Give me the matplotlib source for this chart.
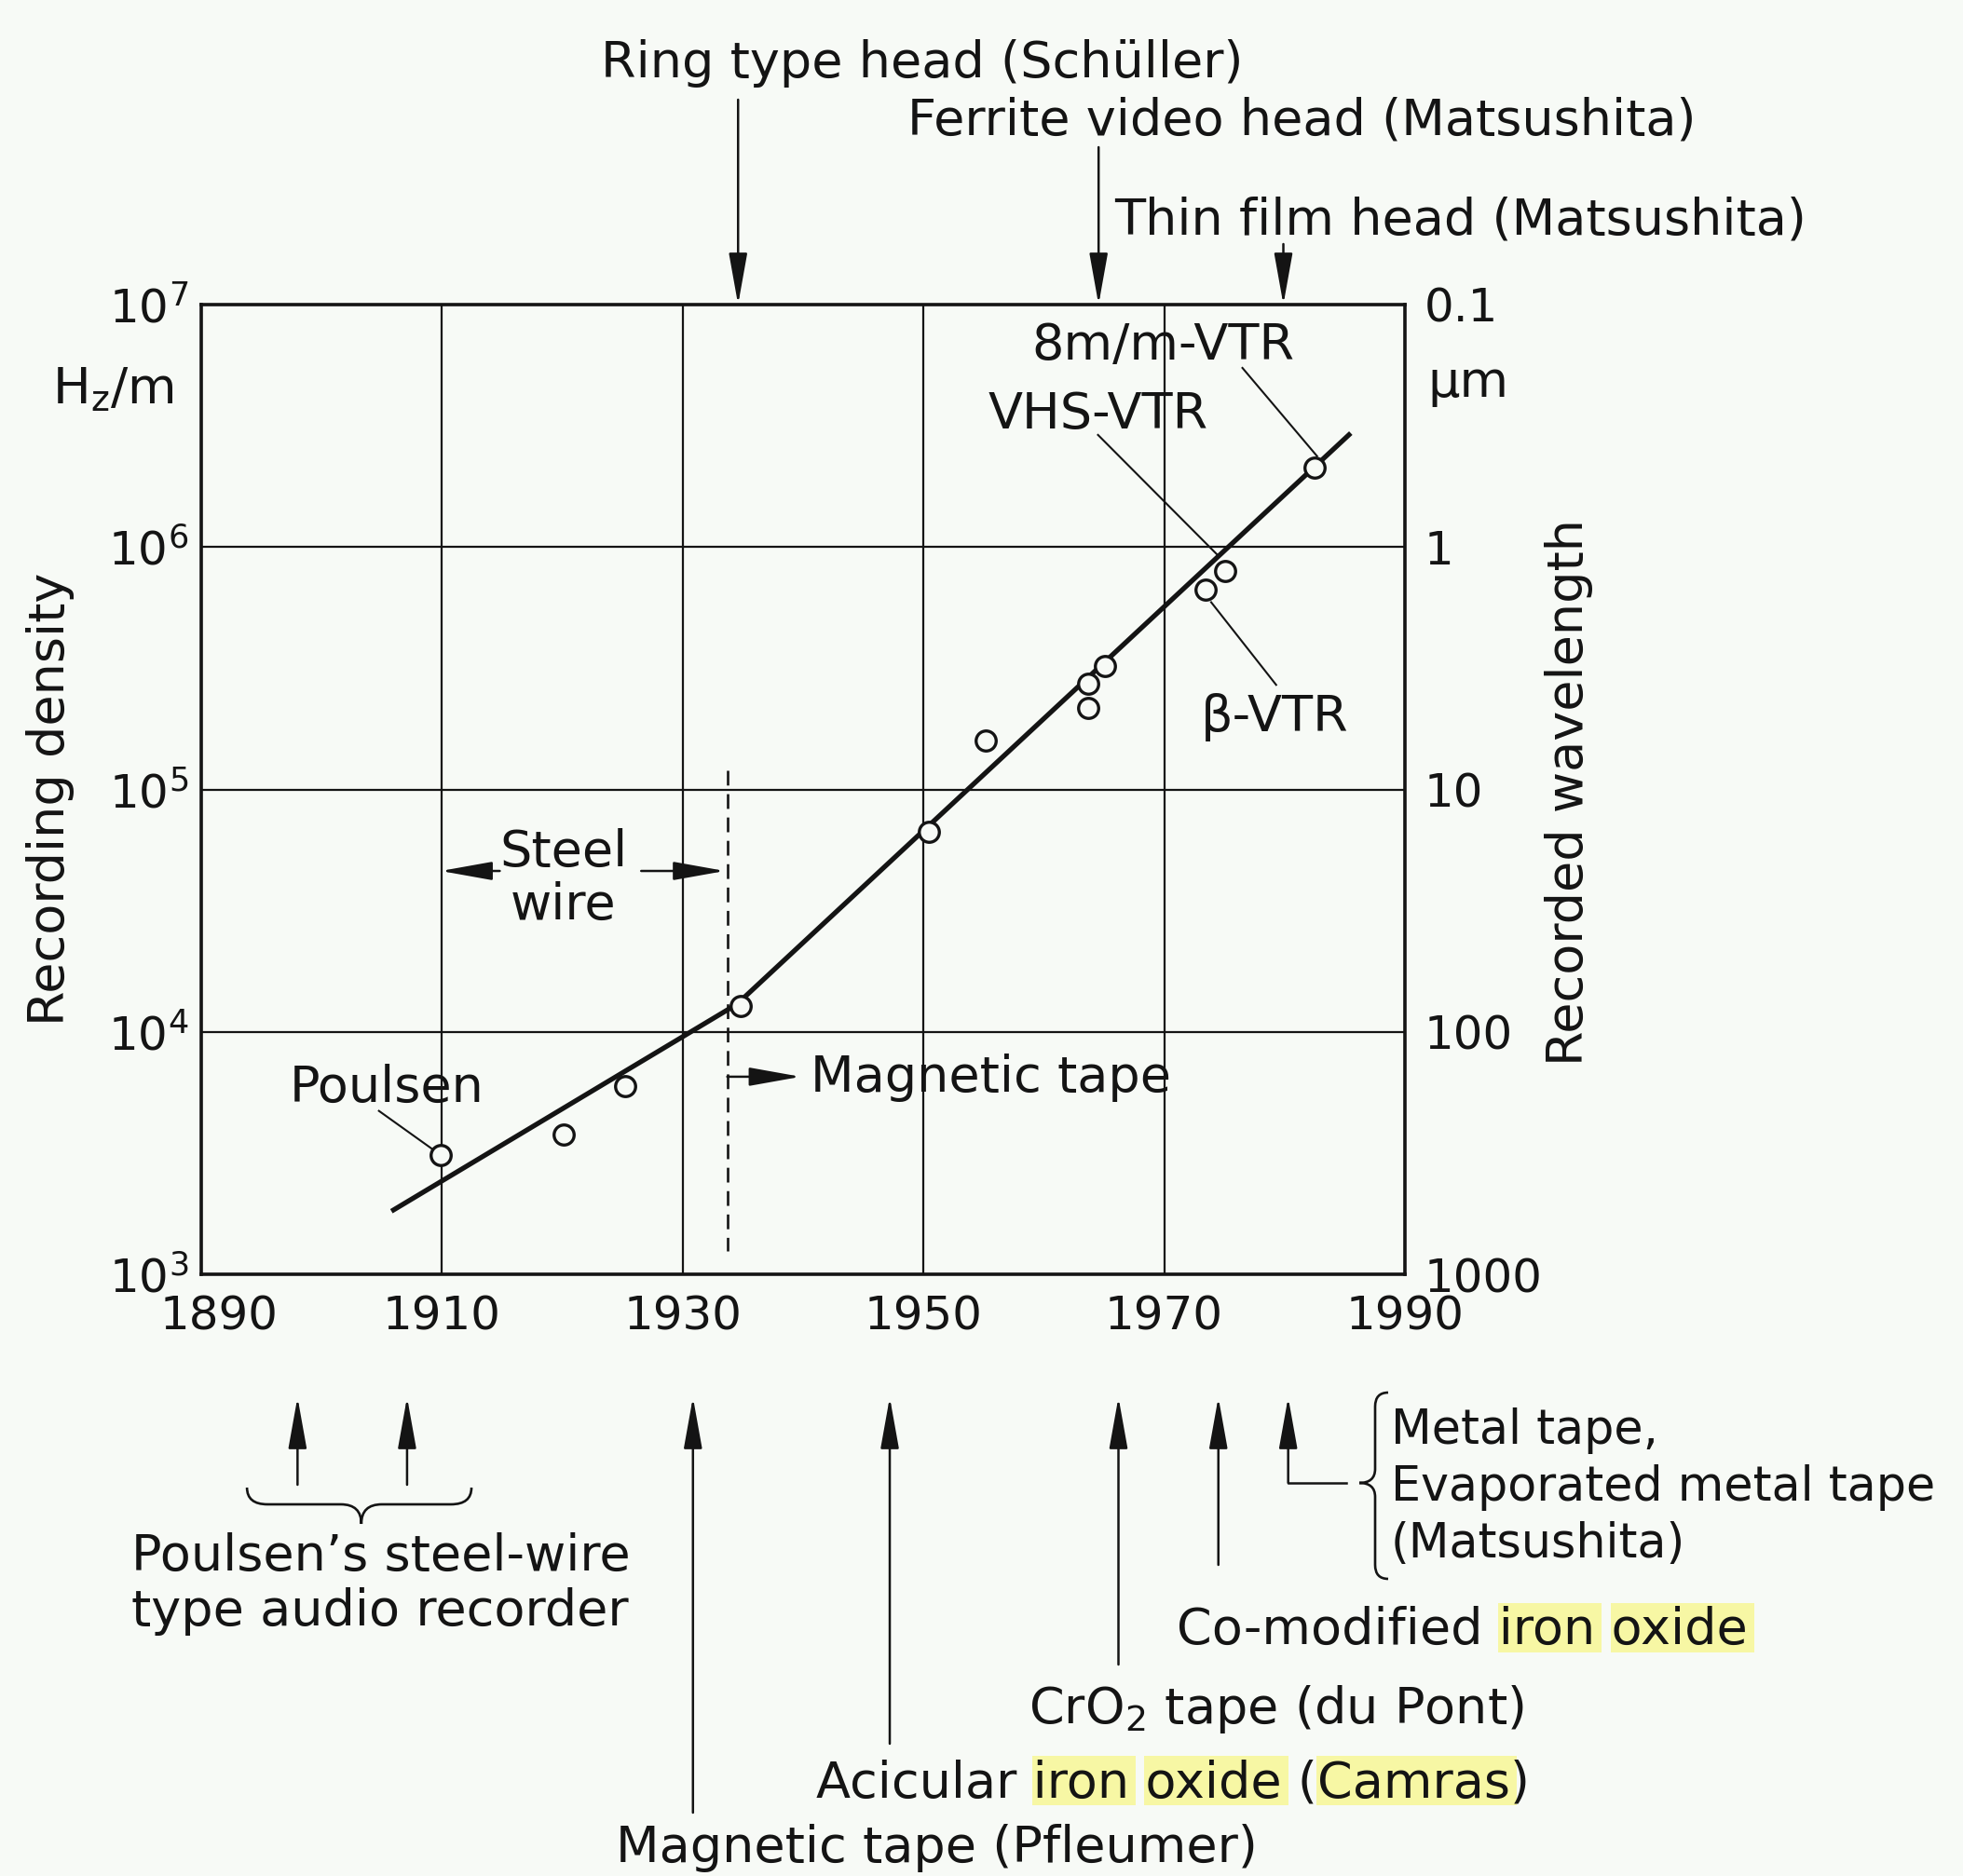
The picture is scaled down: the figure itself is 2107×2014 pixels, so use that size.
import matplotlib
matplotlib.use("Agg")
import matplotlib.pyplot as plt
import numpy as np
from matplotlib.path import Path
from matplotlib.patches import PathPatch, Rectangle
from matplotlib.ticker import NullLocator
import matplotlib.transforms as mtransforms

plt.rcParams['font.family'] = ['DejaVu Sans']
plt.rcParams['mathtext.fontset'] = 'dejavusans'

# ---------------- data ----------------
point_years = [1909.9, 1920.1, 1925.2, 1934.8, 1950.45, 1955.2, 1963.7, 1963.65,
               1965.1, 1973.45, 1975.1, 1982.5]
point_density = [3100, 3760, 5950, 12800, 66700, 159000, 217000, 273000,
                 323000, 665000, 794000, 2.13e6]
trend_years = [1905.8, 1934.5, 1985.5]
trend_density = [1820, 13000, 2.95e6]

x_ticks = [1890, 1910, 1930, 1950, 1970, 1990]
y_ticks = [1e3, 1e4, 1e5, 1e6, 1e7]
y_tick_labels = ['$10^{3}$', '$10^{4}$', '$10^{5}$', '$10^{6}$', '$10^{7}$']
wl_ticks = [0.1, 1, 10, 100, 1000]
wl_tick_labels = ['0.1', '1', '10', '100', '1000']

top_events = ['Ring type head (Schüller)', 'Ferrite video head (Matsushita)',
              'Thin film head (Matsushita)']
top_event_years = [1934.6, 1964.55, 1979.9]

bottom_event_years = [1898.0, 1907.1, 1930.85, 1947.2, 1966.2, 1974.5, 1980.3]

# ---------------- layout ----------------
W, H = 2107, 2014
BG = '#f7faf6'
INK = '#141414'
HL = '#f7f7a4'
FS = 39
TFS = 36

def fx(px):
    return px / W

def fy(py):
    return 1 - py / H

fig = plt.figure(figsize=(W / 100, H / 100), dpi=100, facecolor=BG)
L, R, T, B = 216, 1508, 327, 1368
ax = fig.add_axes([fx(L), fy(B), (R - L) / W, (B - T) / H])
ax.set_facecolor(BG)
ax.set_xlim(1890, 1990)
ax.set_yscale('log')
ax.set_ylim(1e3, 1e7)
ax.set_xticks(x_ticks)
ax.set_yticks(y_ticks)
ax.set_yticklabels(y_tick_labels)
ax.yaxis.set_minor_locator(NullLocator())
ax.xaxis.set_minor_locator(NullLocator())
ax.tick_params(axis='x', length=0, labelbottom=False)
ax.tick_params(axis='y', length=0, pad=10, labelsize=TFS, colors=INK)
ax.grid(True, which='major', color=INK, lw=1.6)
ax.set_axisbelow(True)
for s in ax.spines.values():
    s.set_linewidth(2.6)
    s.set_color(INK)

# right axis: recorded wavelength (um) = 1e6 / density (1/m)
sec = ax.secondary_yaxis('right', functions=(lambda d: 1e6 / np.clip(d, 1e-12, None),
                                             lambda w: 1e6 / np.clip(w, 1e-12, None)))
sec.set_yticks(wl_ticks)
sec.set_yticklabels(wl_tick_labels)
sec.yaxis.set_minor_locator(NullLocator())
sec.tick_params(length=0, pad=15, labelsize=TFS, colors=INK)
sec.spines['right'].set_visible(False)

# x tick labels (drawn as text so the first one can sit clear of 10^3)
x_label_dx = {1890: 19}
for yr in x_ticks:
    ax.annotate(str(yr), xy=(yr, fy(1428)), xycoords=('data', 'figure fraction'),
                xytext=(x_label_dx.get(yr, 0) * 0.72, 0), textcoords='offset points',
                ha='center', va='baseline', fontsize=TFS, color=INK, annotation_clip=False)

# trend line & points
ax.plot(trend_years, trend_density, color=INK, lw=3.8, solid_capstyle='butt', zorder=3)
ax.plot(point_years, point_density, 'o', ms=15.5, mfc=BG, mec=INK, mew=2.4, zorder=4)

# axis titles
fig.text(fx(54), fy(858), 'Recording density', rotation=90, ha='center', va='center',
         fontsize=FS, color=INK)
fig.text(fx(1684), fy(850), 'Recorded wavelength', rotation=90, ha='center', va='center',
         fontsize=FS, color=INK)
fig.text(fx(56), fy(433), 'H$_{\\mathregular{z}}$/m', ha='left', va='baseline', fontsize=FS, color=INK)
fig.text(fx(1532), fy(426), 'μm', ha='left', va='baseline', fontsize=FS, color=INK)

ARROW = '-|>,head_length=0.95,head_width=0.17'

def arrow(xy, xytext, coords='data', lw=1.8):
    ax.annotate('', xy=xy, xytext=xytext, xycoords=coords, textcoords=coords,
                arrowprops=dict(arrowstyle=ARROW, lw=lw, color=INK, shrinkA=0, shrinkB=0,
                                mutation_scale=36),
                annotation_clip=False)

def leader(p0, p1):
    ax.plot([p0[0], p1[0]], [p0[1], p1[1]], color=INK, lw=1.5, zorder=2)

# ---- inside annotations ----
ax.text(1920.1, 48400, 'Steel', ha='center', va='baseline', fontsize=FS, color=INK)
ax.text(1920.1, 29000, 'wire', ha='center', va='baseline', fontsize=FS, color=INK)
arrow((1909.9, 46100), (1914.8, 46100))
arrow((1933.5, 46100), (1926.55, 46100))
ax.plot([1933.7, 1933.7], [120000, 1245], color=INK, lw=1.9, ls=(0, (6, 3.5)), zorder=2)
arrow((1939.8, 6530), (1933.7, 6530))
ax.text(1940.6, 5680, 'Magnetic tape', ha='left', va='baseline', fontsize=FS, color=INK)

ax.text(1905.4, 5150, 'Poulsen', ha='center', va='baseline', fontsize=FS, color=INK)
leader((1904.76, 4720), (1909.14, 3300))
ax.text(1969.9, 5.93e6, '8m/m-VTR', ha='center', va='baseline', fontsize=FS, color=INK)
leader((1976.5, 5.48e6), (1982.7, 2.37e6))
ax.text(1964.5, 3.08e6, 'VHS-VTR', ha='center', va='baseline', fontsize=FS, color=INK)
leader((1964.5, 2.90e6), (1974.5, 9.2e5))
ax.text(1979.2, 1.74e5, 'β-VTR', ha='center', va='baseline', fontsize=FS, color=INK)
leader((1973.9, 5.92e5), (1979.3, 2.70e5))

# ---- top (head) events ----
top_text_pos = [(645, 83), (974, 145), (1196, 251)]
top_arrow_start = [107, 158, 262]
for name, yr, (tx, ty), ys in zip(top_events, top_event_years, top_text_pos, top_arrow_start):
    fig.text(fx(tx), fy(ty), name, ha='left', va='baseline', fontsize=FS, color=INK)
    arrow((yr, fy(T)), (yr, fy(ys)), coords=('data', 'figure fraction'))

# ---- bottom (tape) events ----
bottom_tails = [1594, 1594, 1946, 1872, 1787, 1680, 1592]
for yr, tail in zip(bottom_event_years, bottom_tails):
    arrow((yr, fy(1500)), (yr, fy(tail)), coords=('data', 'figure fraction'))

renderer = fig.canvas.get_renderer()

def text_w(s, fs):
    t = fig.text(0, 0, s, fontsize=fs)
    w = t.get_window_extent(renderer=renderer).width
    t.remove()
    return w

def line_text(px, py, s, highlights=(), fs=FS):
    fig.text(fx(px), fy(py), s, ha='left', va='baseline', fontsize=fs, color=INK, zorder=3)
    for word in highlights:
        end_idx = s.index(word) + len(word)
        end = px + text_w(s[:end_idx], fs) + 3
        start = end - text_w(word, fs)
        rect = Rectangle((start - 4, H - (py + 9)), (end - start) + 8, 53,
                         transform=mtransforms.IdentityTransform(), facecolor=HL,
                         edgecolor='none', zorder=1)
        fig.add_artist(rect)

line_text(141, 1686, 'Poulsen’s steel-wire')
line_text(141, 1745, 'type audio recorder')
line_text(661, 1999, 'Magnetic tape (Pfleumer)')
line_text(876, 1929, 'Acicular iron oxide (Camras)', highlights=('iron', 'oxide', 'Camras'))
line_text(1104, 1850, 'CrO$_2$ tape (du Pont)')
line_text(1263, 1765, 'Co-modified iron oxide', highlights=('iron', 'oxide'))
MFS = 36.5
line_text(1493, 1550, 'Metal tape,', fs=MFS)
line_text(1493, 1611, 'Evaporated metal tape', fs=MFS)
line_text(1493, 1672, '(Matsushita)', fs=MFS)

# metal tape arrow elbow
x_metal = ax.transData.transform((bottom_event_years[-1], 1e3))[0]
fig.add_artist(plt.Line2D([x_metal, 1445], [H - 1592, H - 1592], color=INK, lw=1.8,
                          transform=mtransforms.IdentityTransform()))

# braces
def xpix(yr):
    return ax.transData.transform((yr, 1e3))[0]

x0, x1, xm = xpix(1893.8), xpix(1912.45), xpix(1903.3)
ye, yf, yt = H - 1597, H - 1615, H - 1636
r = 22
verts = [(x0, ye), (x0, yf), (x0 + r, yf), (xm - r, yf), (xm, yf), (xm, yt),
         (xm, yf), (xm + r, yf), (x1 - r, yf), (x1, yf), (x1, ye)]
codes = [Path.MOVETO, Path.CURVE3, Path.CURVE3, Path.LINETO, Path.CURVE3, Path.CURVE3,
         Path.CURVE3, Path.CURVE3, Path.LINETO, Path.CURVE3, Path.CURVE3]
fig.add_artist(PathPatch(Path(verts, codes), fill=False, lw=1.9, edgecolor=INK,
                         transform=mtransforms.IdentityTransform()))

bx, btip, bend = 1476, 1459, 1490
ytop, ymid, ybot = 1495, 1592, 1695
rv = 15
vv = [(bend, ytop), (bx, ytop), (bx, ytop + rv), (bx, ymid - rv), (bx, ymid), (btip, ymid),
      (bx, ymid), (bx, ymid + rv), (bx, ybot - rv), (bx, ybot), (bend, ybot)]
vv = [(x, H - y) for x, y in vv]
fig.add_artist(PathPatch(Path(vv, codes), fill=False, lw=1.9, edgecolor=INK,
                         transform=mtransforms.IdentityTransform()))

fig.savefig('out.png', dpi=100, facecolor=BG)
